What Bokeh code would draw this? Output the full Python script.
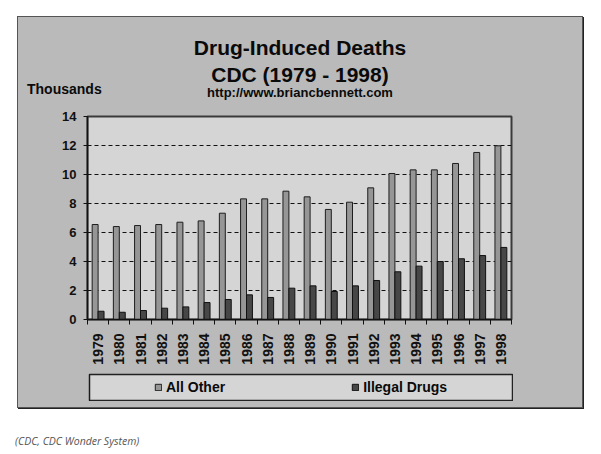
import math
from bokeh.plotting import figure
from bokeh.models import (ColumnDataSource, Range1d, FixedTicker, Legend,
                          LegendItem, Div, Spacer)
from bokeh.layouts import column, row
from bokeh.transform import dodge
from bokeh.embed import file_html
from bokeh.resources import INLINE

years = ["1979", "1980", "1981", "1982", "1983", "1984", "1985", "1986", "1987", "1988",
         "1989", "1990", "1991", "1992", "1993", "1994", "1995", "1996", "1997", "1998"]
all_other = [6.55, 6.41, 6.48, 6.55, 6.71, 6.80, 7.33, 8.32, 8.32, 8.85,
             8.46, 7.59, 8.09, 9.08, 10.07, 10.32, 10.32, 10.76, 11.52, 11.98]
illegal_drugs = [0.57, 0.50, 0.62, 0.78, 0.87, 1.17, 1.38, 1.70, 1.52, 2.16,
                 2.32, 1.93, 2.32, 2.69, 3.29, 3.68, 4.00, 4.19, 4.41, 4.97]
y_ticks = [0, 2, 4, 6, 8, 10, 12, 14]
series_names = ["All Other", "Illegal Drugs"]
title_lines = ["Drug-Induced Deaths", "CDC (1979 - 1998)"]
url_text = "http://www.briancbennett.com"
y_unit = "Thousands"
source_note = "(CDC, CDC Wonder System)"

FONT = "Liberation Sans"
OUTER = "#bababa"
INNER = "#d5d5d5"
C_OTHER = "#969696"
C_ILLEGAL = "#474747"
W = 564  # inner width of the chart box


def bare(fig):
    fig.xaxis.visible = False
    fig.yaxis.visible = False
    fig.xgrid.visible = False
    fig.ygrid.visible = False
    fig.outline_line_color = None
    return fig


# ---------- header with titles (HTML text) ----------
def span(text, top, size, left=None):
    base = (f"position:absolute;top:{top}px;font-family:'{FONT}';font-weight:bold;"
            f"font-size:{size}px;line-height:1;color:#0a0a0a;white-space:nowrap;")
    if left is None:
        base += f"left:0;width:{W}px;text-align:center;"
    else:
        base += f"left:{left}px;"
    return f'<div style="{base}">{text}</div>'


head_html = (f'<div style="position:relative;width:{W}px;height:89px;">'
             + span(title_lines[0], 20, 21)
             + span(title_lines[1], 47, 21)
             + span(url_text, 69, 13)
             + span(y_unit, 65, 14, left=9)
             + '</div>')
head = Div(text=head_html, width=W, height=89, margin=0)

# ---------- main chart ----------
idx = list(range(len(years)))
src = ColumnDataSource(dict(x=idx, year=years, other=all_other, illegal=illegal_drugs))

p = figure(frame_width=424, frame_height=203, output_backend="svg", toolbar_location=None,
           x_range=Range1d(-0.5, len(years) - 0.5), y_range=Range1d(0, 14),
           min_border_left=69, min_border_right=W - 69 - 424, min_border_top=10,
           min_border_bottom=54)
p.border_fill_color = OUTER
p.background_fill_color = INNER
p.outline_line_color = "#3a3a3a"
p.outline_line_width = 2

bar_style = [dict(fill_color=C_OTHER, line_color="#1e1e1e", line_width=1),
             dict(fill_color=C_ILLEGAL, line_color="#111111", line_width=1)]

p.vbar(x=dodge("x", -0.14, range=p.x_range), top="other", width=0.28, bottom=0,
       source=src, **bar_style[0])
p.vbar(x=dodge("x", 0.14, range=p.x_range), top="illegal", width=0.28, bottom=0,
       source=src, **bar_style[1])

xa = p.xaxis[0]
xa.ticker = FixedTicker(ticks=idx, minor_ticks=[i - 0.5 for i in range(len(years) + 1)])
xa.major_label_overrides = {i: y for i, y in enumerate(years)}
xa.major_label_orientation = math.pi / 2
xa.major_tick_out = 0
xa.major_tick_in = 0
xa.minor_tick_out = 5
xa.minor_tick_in = 0
xa.minor_tick_line_color = "#111111"
xa.axis_line_color = "#111111"
xa.axis_line_width = 1.5
xa.major_label_standoff = 9
xa.major_label_text_font = FONT
xa.major_label_text_font_style = "bold"
xa.major_label_text_font_size = "14px"
xa.major_label_text_color = "#111111"

ya = p.yaxis[0]
ya.ticker = FixedTicker(ticks=y_ticks)
ya.major_tick_out = 4
ya.major_tick_in = 0
ya.minor_tick_out = 0
ya.minor_tick_in = 0
ya.major_tick_line_color = "#111111"
ya.axis_line_color = "#111111"
ya.axis_line_width = 1.5
ya.major_label_standoff = 7
ya.major_label_text_font = FONT
ya.major_label_text_font_style = "bold"
ya.major_label_text_font_size = "13px"
ya.major_label_text_color = "#111111"

p.xgrid.visible = False
p.ygrid.ticker = FixedTicker(ticks=y_ticks[1:-1])
p.ygrid.grid_line_color = "#111111"
p.ygrid.grid_line_dash = "4 3"
p.ygrid.grid_line_width = 1

# ---------- legend box ----------
lf = bare(figure(width=425, height=28, output_backend="svg", toolbar_location=None,
                 min_border=1, x_range=Range1d(1000, 1001), y_range=Range1d(0, 1)))
lf.background_fill_color = INNER
lf.border_fill_color = OUTER
lf.outline_line_color = "#222222"
lf.outline_line_width = 1.5
# swatch renderers (their bars lie outside this box's range, only the swatches show)
g1 = lf.vbar(x="x", top="other", width=0.28, source=src, **bar_style[0])
g2 = lf.vbar(x="x", top="illegal", width=0.28, source=src, **bar_style[1])
legend = Legend(items=[LegendItem(label=series_names[0], renderers=[g1]),
                       LegendItem(label=series_names[1], renderers=[g2])],
                orientation="horizontal", location=(65, 3), padding=0, margin=0,
                spacing=126, glyph_width=8, glyph_height=8, label_standoff=4,
                label_height=20, label_text_font=FONT, label_text_font_style="bold",
                label_text_font_size="14px", label_text_color="#0a0a0a",
                border_line_color=None, background_fill_alpha=0)
lf.add_layout(legend, "center")

legend_row = row(Spacer(width=70, height=28), lf, Spacer(width=W - 70 - 425, height=28))

chart = column(head, p, legend_row, Spacer(width=W, height=6),
               styles={"background-color": OUTER, "border": "1px solid #555555",
                       "box-shadow": "1px 1px 0 #222222"})

footer = Div(text=source_note, margin=0,
             styles={"font-family": "Open Sans", "font-style": "italic",
                     "font-size": "10.5px", "color": "#555555", "white-space": "nowrap"})

page = column(Spacer(height=16, width=10),
              row(Spacer(width=17, height=10), chart),
              Spacer(height=26, width=10),
              row(Spacer(width=15, height=10), footer))

open("out.html", "w").write(file_html(page, INLINE))
